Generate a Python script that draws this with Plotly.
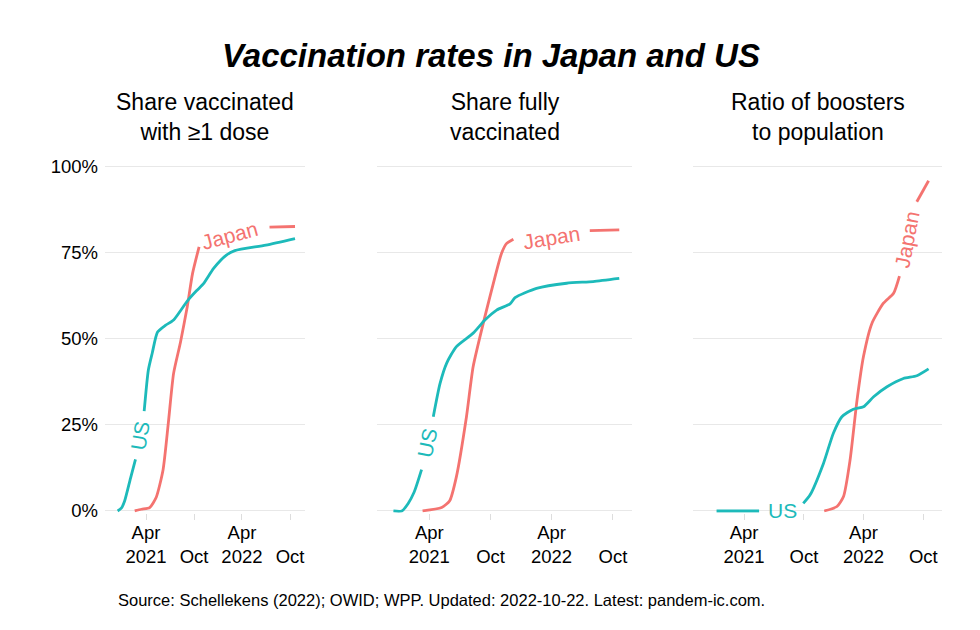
import plotly.graph_objects as go

# The page body adds an 8px offset; reference pixel coords are converted below.
OFF = 8
W, H = 980 - OFF, 630 - OFF

# ---------------- data (percent of population) ----------------
panel_titles = ["Share vaccinated<br>with ≥1 dose",
                "Share fully<br>vaccinated",
                "Ratio of boosters<br>to population"]

# Panel 1: share with at least one dose
us_dose1_dates = ["2020-12-14", "2020-12-28", "2021-01-10", "2021-02-01", "2021-02-20",
                  "2021-03-08", "2021-03-25", "2021-04-10", "2021-04-25", "2021-05-15",
                  "2021-06-15", "2021-07-15", "2021-09-05", "2021-10-10", "2021-11-05",
                  "2021-12-15", "2022-02-01", "2022-03-05", "2022-07-01", "2022-10-20"]
us_dose1 = [0.0, 0.8, 3.0, 9.5, 15.0,
            22.0, 29.0, 41.0, 46.0, 52.0,
            54.0, 55.5, 61.0, 64.0, 66.0,
            70.6, 74.4, 75.7, 77.3, 79.2]

jp_dose1_dates = ["2021-02-17", "2021-03-15", "2021-04-15", "2021-05-10", "2021-06-05",
                  "2021-06-25", "2021-07-15", "2021-08-10", "2021-09-05", "2021-09-25",
                  "2021-10-20", "2021-12-15", "2022-03-01", "2022-07-15", "2022-10-20"]
jp_dose1 = [0.0, 0.5, 1.0, 4.0, 12.0,
            25.6, 40.0, 49.0, 59.4, 69.0,
            76.8, 79.5, 81.0, 82.5, 82.7]

# Panel 2: share fully vaccinated
us_full_dates = ["2020-12-15", "2021-01-09", "2021-01-28", "2021-02-15", "2021-03-09",
                 "2021-03-25", "2021-04-13", "2021-05-03", "2021-05-23", "2021-06-21",
                 "2021-08-10", "2021-09-14", "2021-10-19", "2021-11-28", "2021-12-13",
                 "2022-02-15", "2022-05-16", "2022-08-03", "2022-10-20"]
us_full = [0.0, 0.0, 2.2, 5.5, 12.0,
           19.5, 27.4, 37.0, 43.0, 47.8,
           51.7, 55.5, 58.4, 60.2, 62.0,
           64.7, 66.2, 66.7, 67.6]

jp_full_dates = ["2021-03-12", "2021-05-08", "2021-06-01", "2021-06-21", "2021-07-21",
                 "2021-08-10", "2021-09-14", "2021-10-14", "2021-11-03", "2021-11-18",
                 "2021-12-08", "2022-03-01", "2022-07-24", "2022-10-20"]
jp_full = [0.0, 1.0, 3.0, 10.0, 27.4,
           42.0, 56.5, 68.0, 75.0, 77.8,
           79.0, 80.5, 81.5, 81.7]

# Panel 3: boosters per population
us_boost_dates = ["2021-01-07", "2021-05-17", "2021-08-15", "2021-09-15", "2021-09-29",
                  "2021-10-20", "2021-11-30", "2021-12-30", "2022-01-25", "2022-03-01",
                  "2022-04-01", "2022-05-02", "2022-06-12", "2022-08-01", "2022-09-11",
                  "2022-10-17"]
us_boost = [0.0, 0.0, 0.0, 0.8, 2.2,
            4.7, 13.9, 22.6, 27.4, 29.6,
            30.3, 33.2, 36.1, 38.5, 39.3,
            41.3]

jp_boost_dates = ["2021-12-02", "2022-01-10", "2022-01-30", "2022-02-19", "2022-03-12",
                  "2022-04-01", "2022-04-27", "2022-06-01", "2022-07-02", "2022-07-20",
                  "2022-08-15", "2022-09-11", "2022-10-17"]
jp_boost = [0.0, 1.3, 4.2, 14.8, 32.0,
            44.9, 54.6, 60.4, 63.3, 68.3,
            79.0, 89.9, 96.0]

x_tickvals = ["2021-04-01", "2021-10-01", "2022-04-01", "2022-10-01"]
x_ticktext = ["Apr<br>2021", " <br>Oct", "Apr<br>2022", " <br>Oct"]
y_tickvals = [0, 0.25, 0.5, 0.75, 1.0]
y_ticktext = ["0%", "25%", "50%", "75%", "100%"]

title = "Vaccination rates in Japan and US"
caption = "Source: Schellekens (2022); OWID; WPP. Updated: 2022-10-22. Latest: pandem-ic.com."

# ---------------- styling / layout ----------------
JP_COL = "#F47370"
US_COL = "#1DBABA"
FONT = "Liberation Sans, Arial, sans-serif"

panel_px = [(105, 305), (377, 632), (693, 942)]
y_top_px, y_bot_px = 160.1, 512.7
x_range = ["2020-10-27", "2022-11-27"]
y_range = [-0.005, 1.02]

def fx(px):
    return (px - OFF) / W

def fy(py):
    return 1 - (py - OFF) / H

# label: (date, value%, angle, gap start, gap end)
series = {
    1: {"US": (us_dose1_dates, us_dose1), "Japan": (jp_dose1_dates, jp_dose1)},
    2: {"US": (us_full_dates, us_full), "Japan": (jp_full_dates, jp_full)},
    3: {"US": (us_boost_dates, us_boost), "Japan": (jp_boost_dates, jp_boost)},
}
labels = {
    1: {"US": ("2021-03-09", 22.0, -80, "2021-02-20", "2021-03-25"),
        "Japan": ("2022-02-12", 80.2, -15, "2021-10-20", "2022-07-15")},
    2: {"US": ("2021-03-27", 19.8, -78, "2021-03-09", "2021-04-13"),
        "Japan": ("2022-04-01", 79.4, -9, "2021-12-08", "2022-07-24")},
    3: {"US": ("2021-07-26", 0.0, 0, "2021-05-17", "2021-09-29"),
        "Japan": ("2022-08-13", 78.8, -79, "2022-07-20", "2022-09-11")},
}
colors = {"US": US_COL, "Japan": JP_COL}

fig = go.Figure()
annotations = []

for p in (1, 2, 3):
    xa = "x" if p == 1 else f"x{p}"
    ya = "y" if p == 1 else f"y{p}"
    for name in ("Japan", "US"):
        dates, vals = series[p][name]
        ldate, lval, angle, g0, g1 = labels[p][name]
        yv = [None if (g0 < d < g1) else v / 100 for d, v in zip(dates, vals)]
        fig.add_trace(go.Scatter(
            x=dates, y=yv, mode="lines", xaxis=xa, yaxis=ya,
            line=dict(color=colors[name], width=2.8, shape="spline", smoothing=0.6),
            connectgaps=False, showlegend=False, hoverinfo="skip"))
        annotations.append(dict(
            x=ldate, y=lval / 100, xref=xa, yref=ya, text=name,
            showarrow=False, textangle=angle, xanchor="center", yanchor="middle",
            font=dict(family=FONT, size=21, color=colors[name])))

axis_common_x = dict(
    type="date", range=x_range, tickvals=x_tickvals, ticktext=x_ticktext,
    showgrid=False, zeroline=False, showline=False,
    ticks="outside", ticklen=6, tickwidth=1, tickcolor="#DDDDDD",
    ticklabelstandoff=-3,
    tickfont=dict(family=FONT, size=18.5, color="#000000"),
    automargin=False, fixedrange=True)
axis_common_y = dict(
    range=y_range, tickvals=y_tickvals, ticktext=y_ticktext,
    showgrid=True, gridcolor="#E8E8E8", gridwidth=1.1,
    zeroline=False, showline=False, ticks="",
    tickfont=dict(family=FONT, size=18.5, color="#000000"),
    automargin=False, fixedrange=True,
    domain=[fy(y_bot_px), fy(y_top_px)])

layout = dict(
    width=W, height=H, margin=dict(l=0, r=0, t=0, b=0),
    paper_bgcolor="white", plot_bgcolor="white",
    showlegend=False, font=dict(family=FONT, color="#000000"))
for p, (a, b) in zip((1, 2, 3), panel_px):
    xk = "xaxis" if p == 1 else f"xaxis{p}"
    yk = "yaxis" if p == 1 else f"yaxis{p}"
    ya = "y" if p == 1 else f"y{p}"
    xa = "x" if p == 1 else f"x{p}"
    layout[xk] = dict(axis_common_x, domain=[fx(a), fx(b)], anchor=ya)
    ycfg = dict(axis_common_y, anchor=xa, showticklabels=(p == 1))
    if p == 1:
        ycfg["ticklabelstandoff"] = 6
    layout[yk] = ycfg
    annotations.append(dict(
        x=fx((a + b) / 2), y=fy(117), xref="paper", yref="paper",
        text=panel_titles[p - 1], showarrow=False,
        xanchor="center", yanchor="middle", align="center",
        font=dict(family=FONT, size=23, color="#000000")))

annotations.append(dict(
    x=fx(491), y=fy(55), xref="paper", yref="paper",
    text=f"<b><i>{title}</i></b>", showarrow=False,
    xanchor="center", yanchor="middle",
    font=dict(family=FONT, size=33, color="#000000")))
annotations.append(dict(
    x=fx(116), y=fy(600), xref="paper", yref="paper",
    text=caption, showarrow=False, xanchor="left", yanchor="middle",
    font=dict(family=FONT, size=16.5, color="#000000")))

layout["annotations"] = annotations
fig.update_layout(**layout)
fig.write_html("out.html")
